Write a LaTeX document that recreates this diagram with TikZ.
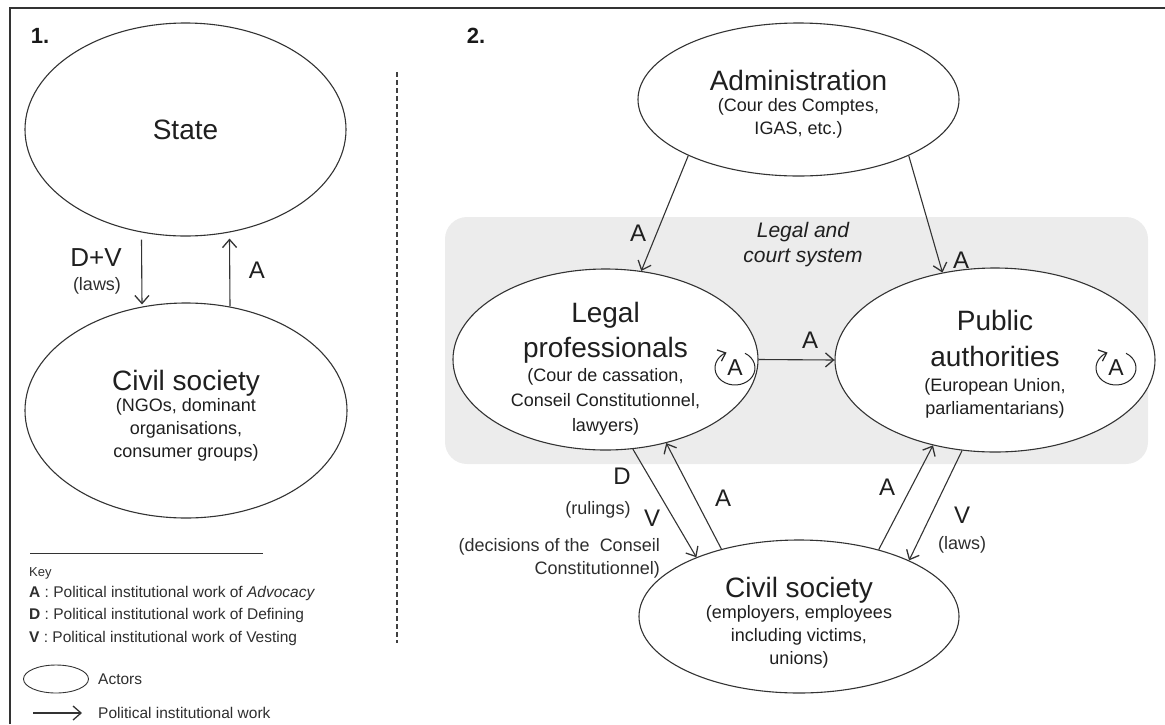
\documentclass[tikz,border=0pt]{standalone}
\usepackage{fontspec}
\setmainfont{Liberation Sans}
\usetikzlibrary{shapes.geometric,arrows.meta}
\newcommand\ttl[1]{{\fontsize{28}{32}\selectfont #1}}
\begin{document}
\begin{tikzpicture}[x=1pt,y=-1pt,
 actor/.style={ellipse, draw=black!80, line width=1.1pt, fill=white, inner sep=0pt},
 actortext/.style={align=center, text=black!88, inner sep=0pt, font=\fontsize{18}{23}\selectfont},
 arr/.style={draw=black!80, line width=1.1pt, -{Straight Barb[length=8pt,width=14pt,line width=1.3pt]}},
 lbl/.style={text=black!88, font=\fontsize{24}{28}\selectfont, inner sep=0pt},
 sub/.style={text=black!82, font=\fontsize{18}{23}\selectfont, inner sep=0pt},
 keytxt/.style={text=black!82, font=\fontsize{15.5}{18}\selectfont, inner sep=0pt, anchor=west},
 loopst/.style={draw=black!85, line width=1pt, -{Straight Barb[length=7pt,width=12pt,line width=1.2pt]}},
 nums/.style={text=black!90, font=\fontsize{22}{26}\selectfont\bfseries, inner sep=0pt},
]
\useasboundingbox (0,0) rectangle (1165,724);
% frame
\draw[black!80, line width=1.5pt] (10,724) -- (10,8) -- (1165,8);
% panel numbers
\node[nums] (n1) at (40,36) {1.};
\node[nums] (n2) at (476,36) {2.};
% separator
\draw[black!75, line width=1.2pt, dash pattern=on 5pt off 3pt] (397,72) -- (397,643);
% legal system background
\fill[gray!15, rounded corners=22pt] (445,217) rectangle (1148,464);
\node[text=black!88, font=\fontsize{21}{25}\selectfont\itshape, align=center, inner sep=0pt] (lsys) at (803,245) {Legal and\\court system};

% panel 1
\node[actor, minimum width=321pt, minimum height=213pt] (state) at (185.5,129.5) {};
\node[actortext] (stateT) at (state.center) {\ttl{State}};
\node[actor, minimum width=322pt, minimum height=215pt] (civL) at (186,410.5) {};
\node[actortext] (civLT) at ([yshift=-5pt]civL.center) {\ttl{Civil society}\\[-2pt](NGOs, dominant\\organisations,\\consumer groups)};
\draw[arr] ([xshift=-44pt,yshift=-3pt]state.south) -- ([xshift=-44pt,yshift=-2pt]civL.north);
\draw[arr] ([xshift=44pt,yshift=-4pt]civL.north) -- ([xshift=44pt,yshift=-2pt]state.south);
\node[lbl, font=\fontsize{26}{30}\selectfont] (lDV) at (96,258) {D+V};
\node[sub] (llaws1) at (97,286) {(laws)};
\node[lbl] (lA1) at (257,270) {A};

% key
\draw[black!80, line width=0.9pt] (30,553) -- (263,553);
\node[keytxt, font=\fontsize{13}{16}\selectfont] (kkey) at (29,573) {Key};
\node[keytxt] (kA) at (29,593) {\textbf{A} : Political institutional work of \textit{Advocacy}};
\node[keytxt] (kD) at (29,615) {\textbf{D} : Political institutional work of Defining};
\node[keytxt] (kV) at (29,638) {\textbf{V} : Political institutional work of Vesting};
\node[ellipse, draw=black!80, line width=0.9pt, minimum width=65pt, minimum height=28pt, inner sep=0pt] (kell) at (56,679) {};
\node[keytxt] (kact) at (98,679) {Actors};
\coordinate (k1) at (33,713);
\coordinate (k2) at (82,713);
\draw[arr] (k1) -- (k2);
\node[keytxt] (kwork) at (98,713) {Political institutional work};

% panel 2
\node[actor, minimum width=321pt, minimum height=153pt] (admin) at (798.5,99.5) {};
\node[actortext] (adminT) at ([yshift=-5pt]admin.center) {\ttl{Administration}\\[-2pt](Cour des Comptes,\\IGAS, etc.)};
\node[actor, minimum width=305pt, minimum height=181pt] (legal) at (605.5,359.5) {};
\node[actortext] (legalT) at ([yshift=-9pt]legal.center) {\ttl{Legal}\\[8pt]\ttl{professionals}\\[1pt](Cour de cassation,\\[2pt]Conseil Constitutionnel,\\[2pt]lawyers)};
\node[actor, minimum width=320pt, minimum height=184pt] (public) at (995,360) {};
\node[actortext] (publicT) at ([yshift=-4pt]public.center) {\ttl{Public}\\[13pt]\ttl{authorities}\\[2pt](European Union,\\parliamentarians)};
\node[actor, minimum width=320pt, minimum height=153pt] (civR) at (799,616.5) {};
\node[actortext] (civRT) at ([yshift=-6pt]civR.center) {\ttl{Civil society}\\[-2pt](employers, employees\\including victims,\\unions)};

\draw[arr] (admin.207) -- (legal.68);
\draw[arr] (admin.333) -- (public.121);
\draw[arr] (legal.east) -- (public.west);
\draw[arr] (legal.-73) -- (civR.150);
\draw[arr] (civR.139) -- (legal.-54);
\draw[arr] (civR.40) -- (public.-126);
\draw[arr] (public.-110) -- (civR.27);

\node[lbl] (aAL) at (638,233) {A};
\node[lbl] (aAP) at (961,260) {A};
\node[lbl] (aLP) at (810,340) {A};
\node[lbl] (lD) at (622,476) {D};
\node[sub] (lrul) at (598,510) {(rulings)};
\node[lbl] (lV) at (652,518) {V};
\node[sub, align=right, anchor=north east] (ldec) at (660,538) {(decisions of the\ \ Conseil\\Constitutionnel)};
\node[lbl] (lAc) at (723,498) {A};
\node[lbl] (lAp) at (887,487) {A};
\node[lbl] (lV2) at (962,515) {V};
\node[sub] (llaws2) at (962,545) {(laws)};

% self loops
\node[lbl, font=\fontsize{23}{26}\selectfont] (loopA1) at (735,368) {A};
\draw[loopst] (loopA1) ++(-60:20 and 17) arc[start angle=-60, end angle=245, x radius=20, y radius=17];
\node[lbl, font=\fontsize{23}{26}\selectfont] (loopA2) at (1116,368) {A};
\draw[loopst] (loopA2) ++(-60:20 and 17) arc[start angle=-60, end angle=245, x radius=20, y radius=17];
\end{tikzpicture}
\end{document}
